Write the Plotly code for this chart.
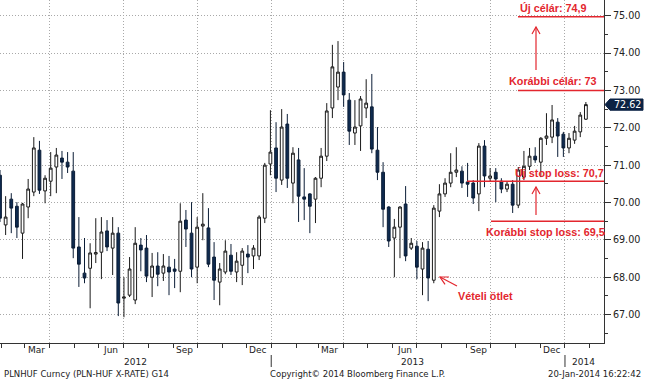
import math
import pandas as pd
import plotly.graph_objects as go

# ---- data (weekly PLNHUF candles) ----
dates = pd.date_range("2012-01-30", periods=105, freq="7D")
open_ = [70.73, 69.40, 70.09, 69.90, 69.18, 69.88, 70.28, 71.40, 70.31, 70.57,
         70.95, 71.19, 71.08, 70.84, 68.81, 68.11, 68.24, 68.62, 68.67, 69.24,
         68.78, 69.18, 67.44, 67.52, 67.39, 68.86, 68.78, 68.00, 68.30, 68.11,
         68.27, 68.22, 68.16, 69.53, 69.18, 68.27, 69.37, 69.32, 68.54, 67.87,
         68.14, 68.59, 68.14, 68.32, 68.62, 68.57, 68.57, 69.58, 71.03, 71.46,
         70.60, 72.10, 70.52, 71.14, 70.15, 70.23, 70.09, 70.65, 71.24, 72.53,
         73.09, 73.49, 72.74, 71.86, 72.05, 72.53, 72.56, 71.40, 70.81, 69.88,
         69.05, 69.34, 69.96, 68.78, 68.83, 68.22, 68.75, 67.92, 69.77, 70.23,
         70.52, 70.81, 70.84, 70.55, 70.52, 70.23, 71.51, 70.65, 70.81, 70.57,
         70.36, 70.49, 69.93, 70.68, 70.97, 71.24, 71.08, 71.72, 71.75, 72.15,
         71.83, 71.46, 71.67, 71.89, 72.23]
high = [70.87, 70.17, 70.25, 70.01, 69.99, 70.63, 71.75, 71.65, 70.73, 71.35,
        71.46, 71.38, 71.35, 71.35, 69.61, 69.05, 68.91, 69.58, 69.61, 69.53,
        69.61, 69.34, 68.00, 68.54, 69.34, 69.05, 69.13, 68.65, 68.67, 68.62,
        68.57, 68.49, 69.98, 69.80, 70.01, 69.61, 70.25, 69.85, 68.94, 68.38,
        68.99, 68.89, 68.67, 68.78, 68.86, 68.86, 69.66, 71.06, 72.47, 72.15,
        72.50, 72.37, 71.48, 71.46, 70.92, 70.25, 70.68, 71.46, 72.66, 74.22,
        74.32, 73.76, 72.93, 72.74, 72.85, 73.30, 73.44, 72.02, 71.08, 69.90,
        69.56, 69.90, 70.44, 69.05, 68.97, 68.94, 68.97, 69.93, 70.49, 70.65,
        71.32, 71.48, 70.97, 71.06, 70.60, 71.59, 71.67, 70.92, 70.92, 70.65,
        70.55, 70.60, 70.95, 71.38, 71.46, 71.48, 71.75, 72.39, 72.61, 72.26,
        71.89, 71.86, 72.05, 72.42, 72.69]
low = [69.48, 69.13, 69.18, 69.05, 68.49, 69.58, 70.17, 70.23, 69.98, 70.17,
       70.25, 70.63, 70.79, 68.51, 67.74, 67.84, 67.17, 68.38, 67.95, 68.70,
       68.06, 66.96, 66.93, 67.47, 67.28, 68.16, 67.87, 67.47, 67.76, 67.90,
       67.52, 67.71, 67.60, 68.81, 68.00, 67.84, 68.99, 68.27, 67.39, 67.25,
       68.08, 68.06, 67.87, 67.79, 68.11, 68.22, 68.46, 69.45, 70.73, 70.28,
       70.47, 70.39, 69.98, 69.48, 69.53, 69.18, 69.45, 70.41, 71.11, 72.26,
       72.74, 72.56, 71.54, 71.54, 71.38, 72.26, 71.32, 70.60, 69.34, 68.81,
       68.00, 68.51, 68.43, 68.73, 67.95, 67.52, 67.36, 67.84, 69.61, 70.15,
       70.41, 70.68, 70.39, 70.15, 69.96, 69.77, 70.41, 70.55, 70.01, 70.25,
       70.28, 69.72, 69.85, 70.60, 70.87, 71.06, 70.68, 71.54, 71.59, 71.22,
       71.22, 71.32, 71.57, 71.75, 72.21]
close = [69.58, 69.61, 69.85, 69.34, 69.96, 70.36, 71.46, 70.33, 70.65, 70.92,
         71.27, 71.08, 70.95, 68.78, 68.35, 67.98, 68.65, 68.66, 69.21, 68.81,
         69.18, 67.31, 67.47, 68.22, 68.91, 68.73, 68.03, 68.30, 68.08, 68.30,
         68.14, 68.16, 69.50, 69.29, 68.22, 69.34, 69.42, 68.35, 67.92, 68.22,
         68.70, 68.16, 68.43, 68.70, 68.54, 68.78, 69.61, 71.00, 71.35, 70.65,
         72.02, 70.65, 71.32, 70.17, 70.09, 69.90, 70.65, 71.24, 72.45, 73.63,
         73.49, 72.88, 71.91, 72.02, 72.77, 72.66, 71.43, 70.81, 69.82, 68.97,
         69.34, 69.88, 68.57, 68.91, 68.27, 68.78, 67.98, 69.85, 70.23, 70.52,
         70.81, 70.87, 70.52, 70.49, 70.12, 71.51, 70.71, 70.71, 70.63, 70.36,
         70.49, 69.93, 70.87, 70.97, 71.24, 71.14, 71.72, 71.78, 72.21, 71.78,
         71.46, 71.72, 71.91, 72.34, 72.62]

month_labels = ["Mar", "Jun", "Sep", "Dec", "Mar", "Jun", "Sep", "Dec"]
month_label_dates = ["2012-03-15", "2012-06-15", "2012-09-15", "2012-12-15",
                     "2013-03-15", "2013-06-15", "2013-09-15", "2013-12-15"]
year_labels = ["2012", "2013", "2014"]
year_breaks = ["2013-01-01", "2014-01-01"]

levels_new_target = 74.97
levels_old_target = 73.0
levels_new_stop = 70.57
levels_old_stop = 69.5

# ---- geometry helpers (pixel -> paper) ----
PR, PB = 604.0, 343.0
def px(x):
    return x / PR
def py(y):
    return 1 - y / PB

RED = "#e3262e"
NAVY = "#0f2b50"
GRID = "#a9a9a9"

fig = go.Figure(go.Candlestick(
    x=dates, open=open_, high=high, low=low, close=close,
    increasing=dict(line=dict(color="#1a1a1a", width=1), fillcolor="#ffffff"),
    decreasing=dict(line=dict(color="#0b1d36", width=1), fillcolor=NAVY),
    whiskerwidth=0, showlegend=False, hoverinfo="skip",
))

fig.update_layout(
    width=645, height=380,
    margin=dict(l=0, r=41, t=0, b=37),
    paper_bgcolor="white", plot_bgcolor="white",
    showlegend=False,
    font=dict(family="DejaVu Sans", size=10, color="#222222"),
    xaxis=dict(
        type="date", range=["2012-01-30", "2014-02-18 12:00"],
        rangeslider=dict(visible=False), showticklabels=False,
        tick0="2012-01-01", dtick="M3", ticks="outside", ticklen=4,
        tickcolor="#333333", showgrid=True, gridcolor=GRID,
        griddash="1px,2px", gridwidth=1,
        minor=dict(tick0="2012-01-01", dtick="M1", ticks="outside",
                   ticklen=4, tickcolor="#333333", showgrid=False),
        showline=True, linecolor="#333333", linewidth=1, zeroline=False,
    ),
    yaxis=dict(
        side="right", range=[66.24, 75.42], tick0=0, dtick=1,
        tickformat=".2f", ticks="outside", ticklen=6, tickcolor="#333333",
        tickfont=dict(family="DejaVu Sans", size=9.6, color="#222222"),
        showgrid=True, gridcolor=GRID, griddash="1px,2px", gridwidth=1,
        minor=dict(dtick=0.5, ticks="outside", ticklen=3,
                   tickcolor="#333333", showgrid=False),
        showline=True, linecolor="#333333", linewidth=1, zeroline=False,
    ),
)

shapes = []
ann = []

# month labels
for lab, d in zip(month_labels, month_label_dates):
    ann.append(dict(x=d, xref="x", y=py(350), yref="paper", text=lab,
                    showarrow=False, xanchor="center", yanchor="middle",
                    font=dict(size=9, color="#222222")))
# year labels
for lab, xc in zip(year_labels, [135, 412, 583]):
    ann.append(dict(x=px(xc), xref="paper", y=py(362), yref="paper", text=lab,
                    showarrow=False, xanchor="center", yanchor="middle",
                    font=dict(size=9, color="#222222")))
for d in year_breaks:
    shapes.append(dict(type="line", xref="x", yref="paper", x0=d, x1=d,
                       y0=py(355), y1=py(367), line=dict(color="#333333", width=1)))

# footer
ann.append(dict(x=px(2), xref="paper", y=py(374), yref="paper",
                text="PLNHUF Curncy (PLN-HUF X-RATE) G14", showarrow=False,
                xanchor="left", yanchor="middle", font=dict(size=8.5, color="#222222")))
ann.append(dict(x=px(357), xref="paper", y=py(374), yref="paper",
                text="Copyright© 2014 Bloomberg Finance L.P.", showarrow=False,
                xanchor="center", yanchor="middle", font=dict(size=8.5, color="#222222")))
ann.append(dict(x=px(643), xref="paper", y=py(374), yref="paper",
                text="20-Jan-2014 16:22:42", showarrow=False,
                xanchor="right", yanchor="middle", font=dict(size=8.5, color="#222222")))

# red level lines
for lvl, x0 in [(levels_new_target, 518), (levels_old_target, 518),
                (levels_new_stop, 467), (levels_old_stop, 491)]:
    shapes.append(dict(type="line", xref="paper", yref="y", x0=px(x0), x1=1,
                       y0=lvl, y1=lvl, line=dict(color=RED, width=1.5)))

def arrow(tipx, tipy, tailx, taily, arm=8, ang=30):
    shapes.append(dict(type="line", xref="paper", yref="paper",
                       x0=px(tailx), y0=py(taily), x1=px(tipx), y1=py(tipy),
                       line=dict(color=RED, width=1.2)))
    base = math.atan2(taily - tipy, tailx - tipx)
    pts = []
    for s in (-1, 1):
        a = base + s * math.radians(ang)
        pts.append((tipx + arm * math.cos(a), tipy + arm * math.sin(a)))
    path = "M{:.5f},{:.5f} L{:.5f},{:.5f} L{:.5f},{:.5f}".format(
        px(pts[0][0]), py(pts[0][1]), px(tipx), py(tipy), px(pts[1][0]), py(pts[1][1]))
    shapes.append(dict(type="path", xref="paper", yref="paper", path=path,
                       line=dict(color=RED, width=1.2)))

arrow(536, 27, 536, 70)
arrow(536, 187, 536, 215)
arrow(440, 277, 457, 286, arm=9, ang=28)

def red_text(txt, x, y):
    ann.append(dict(x=px(x), xref="paper", y=py(y), yref="paper", text="<b>%s</b>" % txt,
                    showarrow=False, xanchor="left", yanchor="middle",
                    font=dict(family="Liberation Sans", size=10.8, color=RED)))

red_text("Új célár: 74,9", 518, 8)
red_text("Korábbi célár: 73", 507, 80.5)
red_text("Új stop loss: 70,7", 513, 173)
red_text("Korábbi stop loss: 69,5", 484, 232)
red_text("Vételi ötlet", 456, 296)

# last price tag
last = close[-1]
h = 0.15
path = "M{:.5f},{:.4f} L{:.5f},{:.4f} L{:.5f},{:.4f} L{:.5f},{:.4f} L{:.5f},{:.4f} Z".format(
    px(605), last, px(610), last + h, px(643), last + h, px(643), last - h, px(610), last - h)
shapes.append(dict(type="path", xref="paper", yref="y", path=path,
                   fillcolor="#0b2244", line=dict(color="#0b2244", width=1), layer="above"))
ann.append(dict(x=px(627), xref="paper", y=last, yref="y", text="%.2f" % last,
                showarrow=False, xanchor="center", yanchor="middle",
                font=dict(size=9.6, color="white")))

fig.update_layout(shapes=shapes, annotations=ann)
fig.write_html("out.html", config={"displayModeBar": False},
               post_script="document.body.style.margin='0px';document.body.style.padding='0px';")
